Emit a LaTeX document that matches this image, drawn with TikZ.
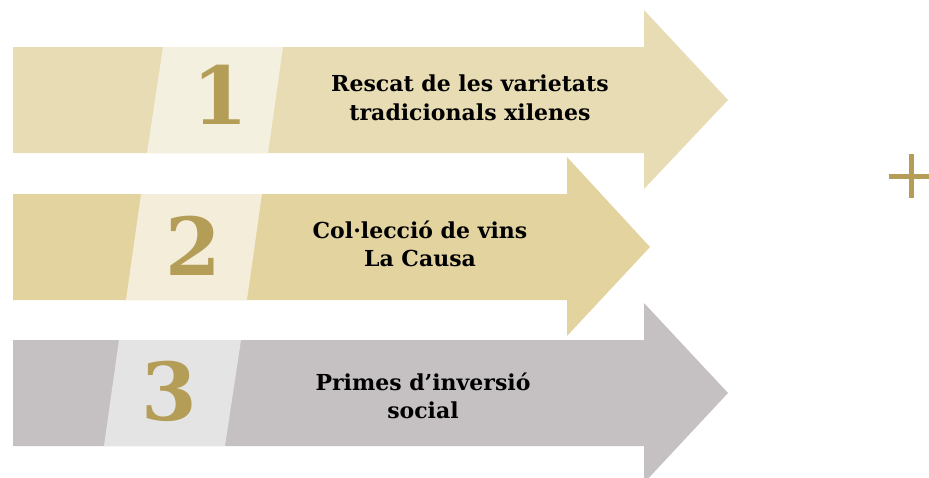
\documentclass[tikz,border=0pt]{standalone}
\usepackage{fontspec}
\setmainfont{DejaVu Serif}
\definecolor{arrowA}{HTML}{E8DCB4}
\definecolor{bandA}{HTML}{F4F0E0}
\definecolor{arrowB}{HTML}{E3D39F}
\definecolor{bandB}{HTML}{F3EDD9}
\definecolor{arrowC}{HTML}{C5C1C2}
\definecolor{bandC}{HTML}{E5E4E4}
\definecolor{gold}{HTML}{B49D57}
\tikzset{
  label text/.style={align=center, font=\fontsize{22}{28.5}\selectfont\bfseries, text=black, inner sep=0pt},
  number text/.style={font=\fontsize{80}{80}\selectfont\bfseries, text=gold, inner sep=0pt},
}
\begin{document}
\begin{tikzpicture}[x=1pt,y=-1pt]
\useasboundingbox (0,0) rectangle (929,477);
% arrow 1
\fill[arrowA] (13,47) -- (644,47) -- (644,10) -- (728,100) -- (644,189) -- (644,153) -- (13,153) -- cycle;
\fill[bandA] (163,47) -- (283,47) -- (268,153) -- (147,153) -- cycle;
\node[number text] (n1) at (220,95) {1};
\node[label text] (t1) at (470,98) {Rescat de les varietats\\tradicionals xilenes};
% arrow 2
\fill[arrowB] (13,194) -- (567,194) -- (567,157) -- (650,247) -- (567,336) -- (567,300) -- (13,300) -- cycle;
\fill[bandB] (141,194) -- (262,194) -- (247,300) -- (126,300) -- cycle;
\node[number text] (n2) at (193,246) {2};
\node[label text] (t2) at (420,244) {Col·lecció de vins\\La Causa};
% arrow 3
\fill[arrowC] (13,340) -- (644,340) -- (644,303) -- (728,393) -- (644,483) -- (644,446) -- (13,446) -- cycle;
\fill[bandC] (119,340) -- (241,340) -- (225,446) -- (104,446) -- cycle;
\node[number text] (n3) at (169,391) {3};
\node[label text] (t3) at (423,396) {Primes d’inversió\\social};
% plus
\draw[gold, line width=5pt] (889,176) -- (933,176);
\draw[gold, line width=5pt] (911,154) -- (911,198);
\end{tikzpicture}
\end{document}
